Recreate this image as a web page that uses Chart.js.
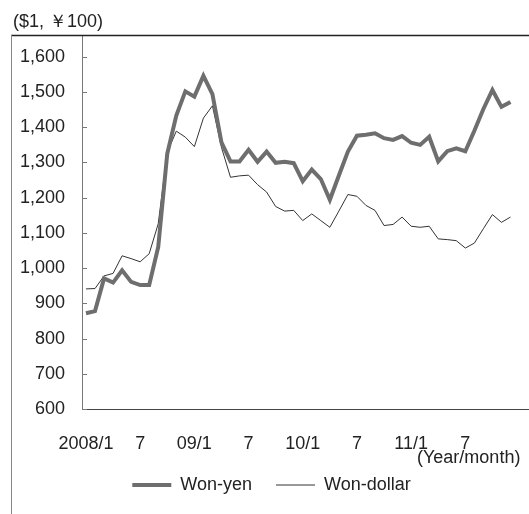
<!DOCTYPE html>
<html>
<head>
<meta charset="utf-8">
<script src="https://cdn.jsdelivr.net/npm/chart.js@4"></script>
<style>
  html, body { margin: 0; padding: 0; background: #fff; }
</style>
</head>
<body>
<canvas id="chart" width="529" height="514"></canvas>
<script>
// monthly averages, 2008/1 .. 2011/12
const wonYen = [872, 878, 971, 959, 994, 961, 952, 952, 1060, 1325, 1433, 1502,
  1487, 1546, 1494, 1357, 1303, 1303, 1336, 1302, 1331, 1299, 1302, 1298,
  1247, 1280, 1253, 1194, 1263, 1331, 1376, 1379, 1383, 1369, 1364, 1375,
  1356, 1350, 1373, 1303, 1332, 1340, 1332, 1390, 1452, 1506, 1458, 1472]
const wonDollar = [941, 942, 978, 985, 1035, 1027, 1018, 1041, 1126, 1329, 1389, 1372,
  1345, 1426, 1461, 1343, 1258, 1262, 1264, 1237, 1216, 1175, 1162, 1164,
  1135, 1154, 1135, 1116, 1162, 1209, 1204, 1178, 1164, 1121, 1124, 1145,
  1119, 1116, 1119, 1083, 1081, 1078, 1057, 1071, 1112, 1152, 1130, 1145]

const tickMonths = [0, 6, 12, 18, 24, 30, 36, 42]
const tickLabels = ['2008/1', '7', '09/1', '7', '10/1', '7', '11/1', '7']
const yTicks = [600, 700, 800, 900, 1000, 1100, 1200, 1300, 1400, 1500, 1600]

const font = { family: "'Liberation Sans', Arial, sans-serif", size: 18 }
const textColor = '#222'

const toPoints = (arr) => arr.map((v, i) => ({ x: i, y: v }))

// box around the figure, inner y ticks, unit text
const framePlugin = {
  id: 'frame',
  afterDraw(chart) {
    const { ctx, chartArea, scales: { y } } = chart
    ctx.save()
    ctx.strokeStyle = '#222'
    ctx.lineWidth = 1.5
    ctx.beginPath()
    ctx.moveTo(11, 35.5)
    ctx.lineTo(529, 35.5)
    ctx.stroke()

    ctx.strokeStyle = '#888'
    ctx.lineWidth = 1
    ctx.beginPath()
    ctx.moveTo(11.5, 35)
    ctx.lineTo(11.5, 514)
    ctx.stroke()

    ctx.strokeStyle = '#777'
    y.ticks.forEach(t => {
      const py = Math.round(y.getPixelForValue(t.value)) + 0.5
      ctx.beginPath()
      ctx.moveTo(chartArea.left, py)
      ctx.lineTo(chartArea.left + 5, py)
      ctx.stroke()
    })

    ctx.fillStyle = textColor
    ctx.font = "18px 'Liberation Sans', Arial, sans-serif"
    ctx.textBaseline = 'middle'
    ctx.textAlign = 'left'
    ctx.fillText('($1, \uFFE5100)', 13, 22)
    ctx.fillText('(Year/month)', 417, 458)
    ctx.restore()
  }
}

new Chart(document.getElementById('chart'), {
  type: 'line',
  data: {
    datasets: [
      {
        label: 'Won-yen',
        data: toPoints(wonYen),
        borderColor: '#6e6e6e',
        borderWidth: 4,
        pointRadius: 0,
        tension: 0
      },
      {
        label: 'Won-dollar',
        data: toPoints(wonDollar),
        borderColor: '#333',
        borderWidth: 1,
        pointRadius: 0,
        tension: 0
      }
    ]
  },
  options: {
    responsive: false,
    animation: false,
    devicePixelRatio: 1,
    layout: { padding: { left: 14, right: 0, top: 35, bottom: 10 } },
    plugins: {
      tooltip: { enabled: false },
      legend: {
        position: 'bottom',
        labels: {
          usePointStyle: true,
          pointStyle: 'line',
          pointStyleWidth: 39,
          padding: 24,
          font: font,
          color: textColor
        }
      }
    },
    scales: {
      x: {
        type: 'linear',
        min: -0.44,
        max: 49.05,
        afterBuildTicks: (s) => { s.ticks = tickMonths.map(v => ({ value: v })) },
        afterFit: (s) => { s.height = 43 },
        ticks: {
          callback: (v, i) => tickLabels[i],
          font: font,
          color: textColor,
          padding: 24,
          maxRotation: 0,
          autoSkip: false
        },
        grid: { drawOnChartArea: false, drawTicks: false },
        border: { color: '#444', width: 1 }
      },
      y: {
        min: 600,
        max: 1662,
        afterBuildTicks: (s) => { s.ticks = yTicks.map(v => ({ value: v })) },
        afterFit: (s) => { s.width = 68 },
        ticks: {
          callback: (v) => v.toLocaleString('en-US'),
          font: font,
          color: textColor,
          padding: 17
        },
        grid: { drawOnChartArea: false, drawTicks: false },
        border: { color: '#777', width: 1 }
      }
    }
  },
  plugins: [framePlugin]
})
</script>
</body>
</html>
